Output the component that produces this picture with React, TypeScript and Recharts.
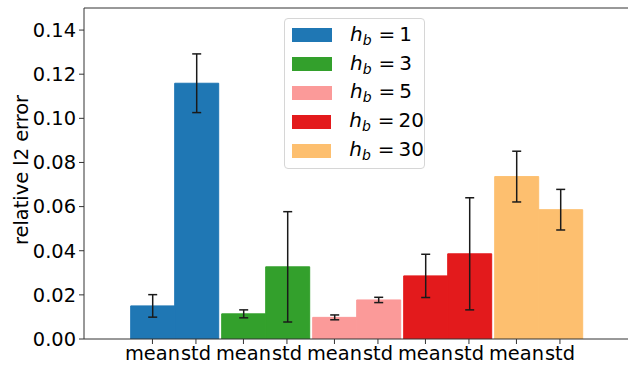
import React from "react"
import { BarChart, Bar, Cell, XAxis, YAxis, ErrorBar, Legend, ReferenceLine } from "recharts"

// bar groups (one colour each)
const groupKeys = ["1", "3", "5", "20", "30"]
const groupColors = ["#1f77b4", "#33a02c", "#fb9a99", "#e31a1c", "#fdbf6f"]
const subLabels = ["mean", "std"]

// heights and error bar half-lengths
const meanValues = [0.015, 0.0114, 0.0098, 0.0286, 0.0736]
const meanErrors = [0.0051, 0.0018, 0.0011, 0.0098, 0.0115]
const stdValues = [0.1159, 0.0327, 0.0177, 0.0386, 0.0586]
const stdErrors = [0.0133, 0.025, 0.0012, 0.0254, 0.0092]

const yTicks = [0, 0.02, 0.04, 0.06, 0.08, 0.1, 0.12, 0.14]

const FONT = "DejaVu Sans"
const AXIS = "#333"

const data = groupKeys.map((g, i) => ({
  group: g,
  mean: meanValues[i],
  meanErr: meanErrors[i],
  std: stdValues[i],
  stdErr: stdErrors[i],
}))

// half of one bar's width, so the mean/std labels sit under their bars
const HALF_BAR = 21.75

function GroupTick({ x, y }: any) {
  return (
    <g>
      {subLabels.map((s, i) => {
        const cx = x + (i === 0 ? -HALF_BAR : HALF_BAR)
        return (
          <g key={s}>
            <line x1={cx} x2={cx} y1={y} y2={y + 5} stroke={AXIS} strokeWidth={1} />
            <text x={cx} y={y + 21} textAnchor="middle" fontFamily={FONT} fontSize={19.4} fill="#000">
              {s}
            </text>
          </g>
        )
      })}
    </g>
  )
}

function LegendBox() {
  return (
    <div
      style={{
        width: 141,
        height: 151,
        boxSizing: "border-box",
        border: "1px solid #d6d6d6",
        borderRadius: 4,
        background: "rgba(255,255,255,0.8)",
        paddingTop: 2,
        paddingLeft: 7,
        fontFamily: FONT,
        fontSize: 20,
        color: "#000",
      }}
    >
      {groupKeys.map((g, i) => (
        <div key={g} style={{ height: 28.8, display: "flex", alignItems: "center" }}>
          <div style={{ width: 40, height: 14, background: groupColors[i], marginRight: 18 }} />
          <span style={{ whiteSpace: "nowrap", lineHeight: 1 }}>
            <i>h</i>
            <sub style={{ fontSize: 14, fontStyle: "italic", verticalAlign: -4 }}>b</sub>
            <span style={{ marginLeft: 7, marginRight: 4 }}>=</span>
            <span>{g}</span>
          </span>
        </div>
      ))}
    </div>
  )
}

export default function App() {
  return (
    <div style={{ position: "absolute", left: 0, top: 0, background: "#fff" }}>
      <BarChart
        width={628}
        height={366}
        data={data}
        margin={{ top: 8, right: 0, bottom: 0, left: 0 }}
        barCategoryGap={2}
        barGap={0}
      >
        <XAxis
          dataKey="group"
          height={27}
          padding={{ left: 44.7, right: 44.3 }}
          axisLine={{ stroke: AXIS, strokeWidth: 1 }}
          tickLine={false}
          tickSize={0}
          tickMargin={0}
          interval={0}
          tick={<GroupTick />}
        />
        <YAxis
          width={84}
          domain={[0, 0.15]}
          ticks={yTicks}
          allowDataOverflow
          tickFormatter={(v: number) => v.toFixed(2)}
          axisLine={{ stroke: AXIS, strokeWidth: 1 }}
          tickLine={{ stroke: AXIS, strokeWidth: 1 }}
          tickSize={5}
          tickMargin={3}
          tick={{ fontFamily: FONT, fontSize: 19.4, fill: "#000" }}
          label={{
            content: () => (
              <text
                x={28}
                y={170}
                transform="rotate(-90 28 170)"
                textAnchor="middle"
                fontFamily={FONT}
                fontSize={19.4}
                fill="#000"
              >
                relative l2 error
              </text>
            ),
          }}
        />
        <ReferenceLine y={0.15} stroke={AXIS} strokeWidth={1} />
        <Bar dataKey="mean" isAnimationActive={false}>
          {data.map((d, i) => (
            <Cell key={`m-${d.group}`} fill={groupColors[i]} stroke={groupColors[i]} strokeWidth={1} />
          ))}
          <ErrorBar dataKey="meanErr" width={4.5} stroke="#1a1a1a" strokeWidth={1.5} direction="y" />
        </Bar>
        <Bar dataKey="std" isAnimationActive={false}>
          {data.map((d, i) => (
            <Cell key={`s-${d.group}`} fill={groupColors[i]} stroke={groupColors[i]} strokeWidth={1} />
          ))}
          <ErrorBar dataKey="stdErr" width={4.5} stroke="#1a1a1a" strokeWidth={1.5} direction="y" />
        </Bar>
        <Legend
          layout="vertical"
          align="center"
          verticalAlign="middle"
          content={<LegendBox />}
          wrapperStyle={{ position: "absolute", left: 284, top: 18, width: 141, height: 151 }}
        />
      </BarChart>
    </div>
  )
}
